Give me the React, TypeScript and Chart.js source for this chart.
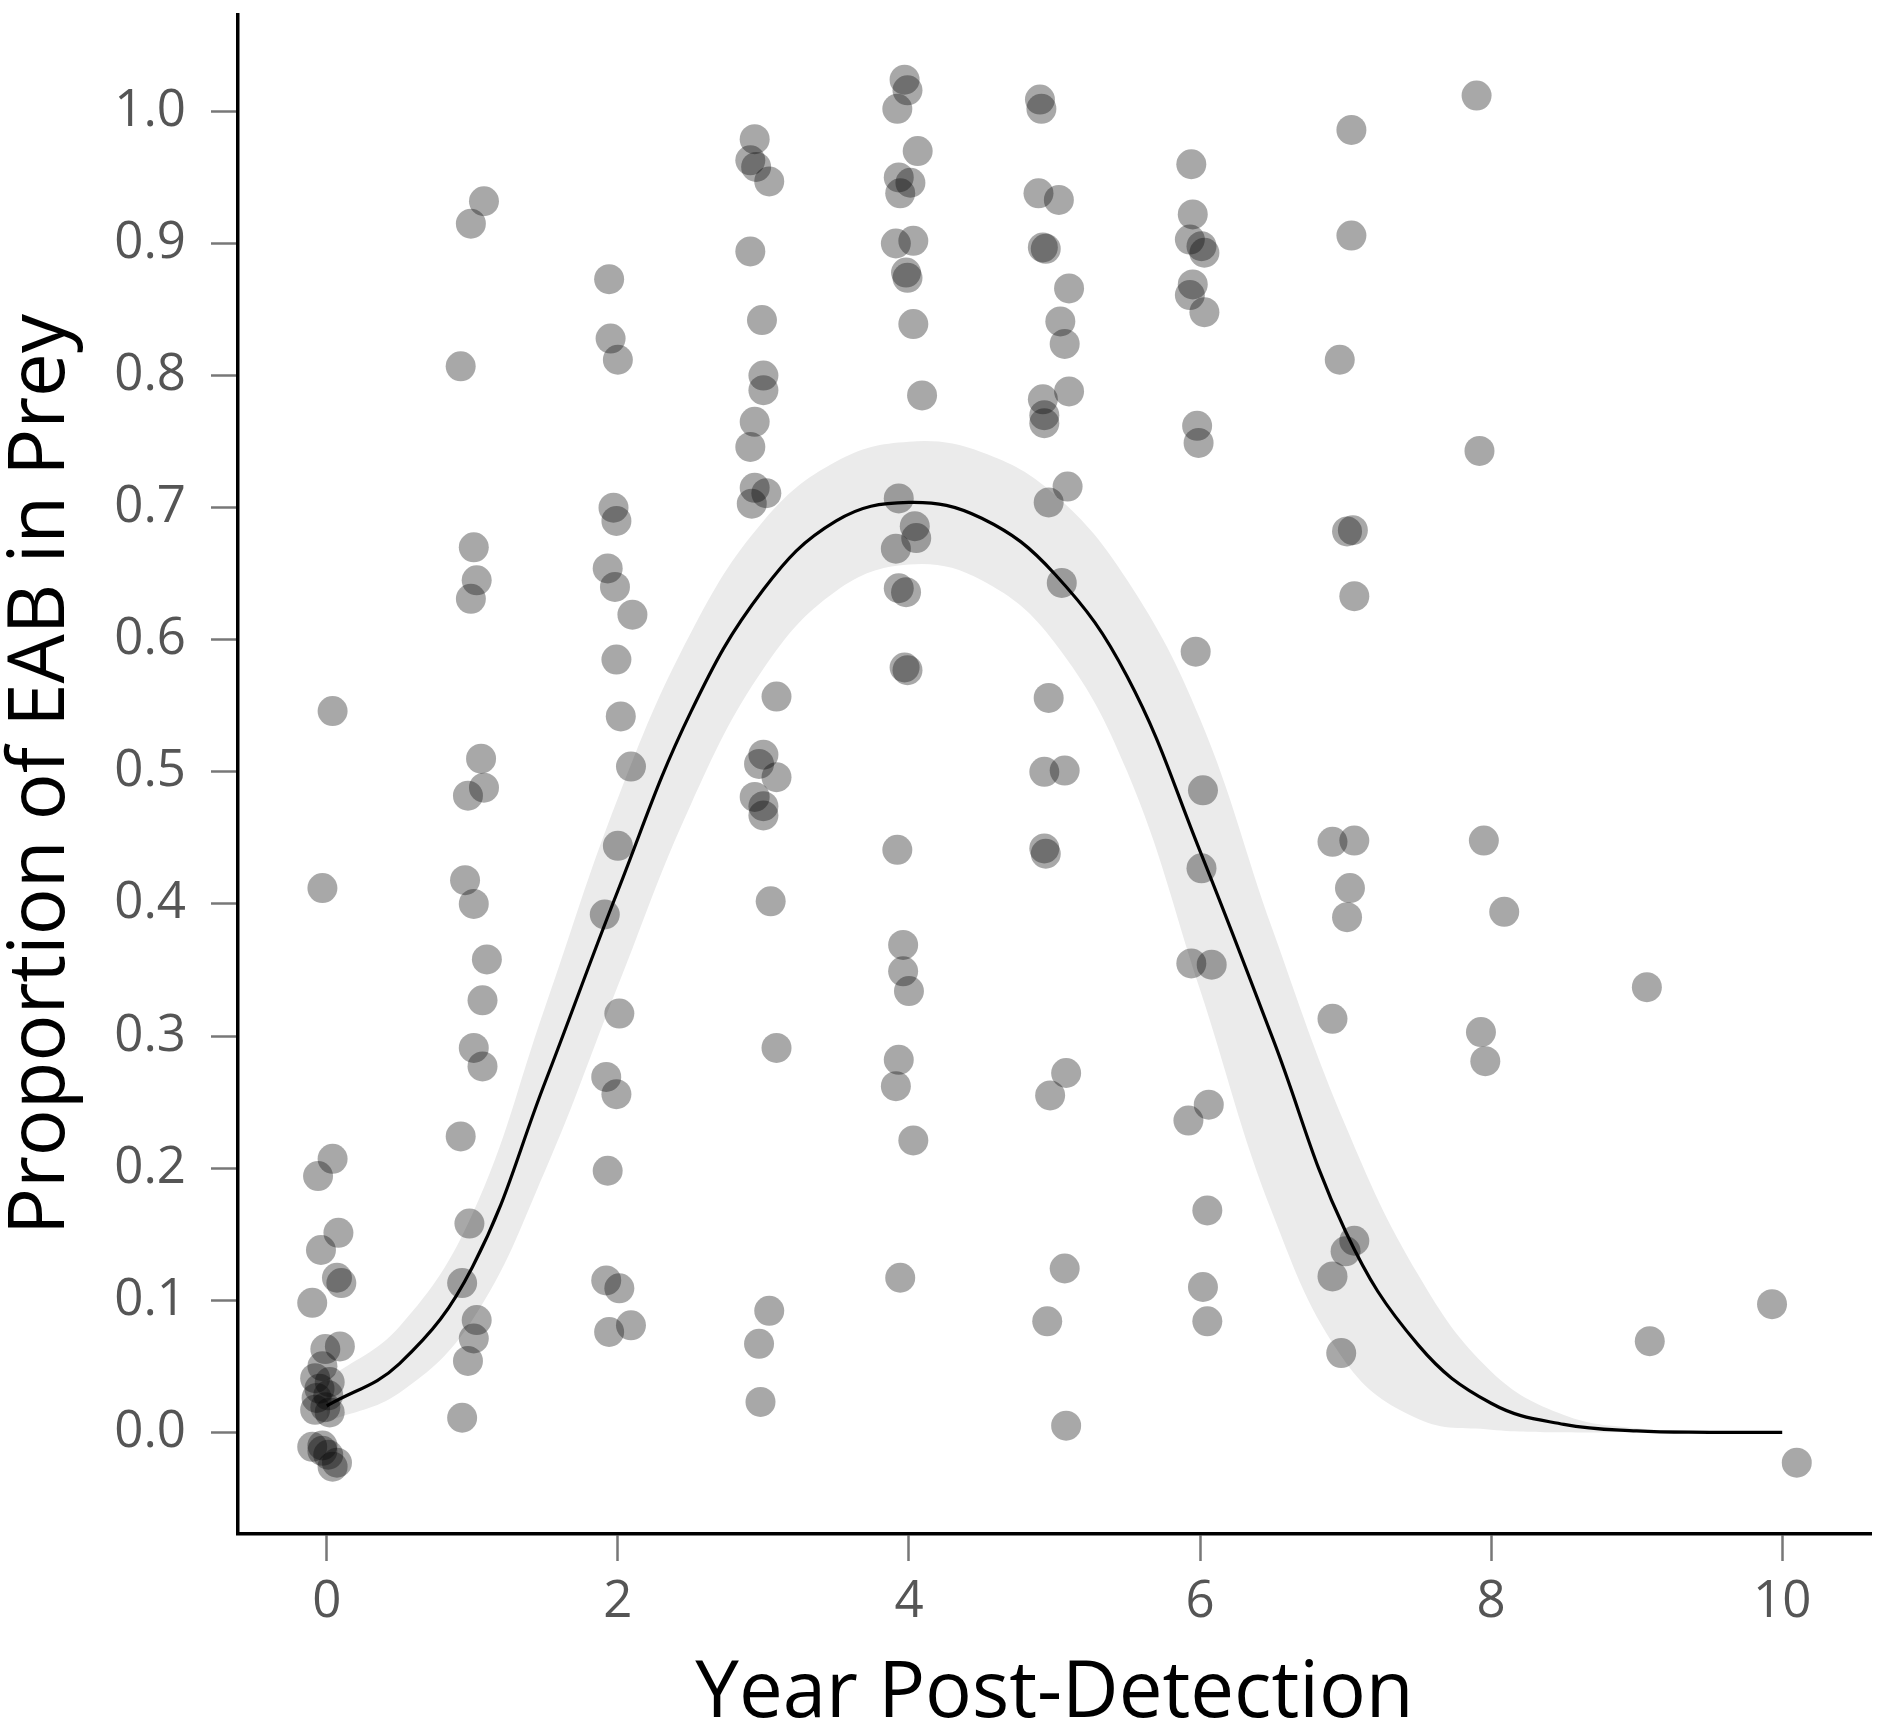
import React, { useEffect, useRef } from "react";
import { Chart, registerables } from "chart.js";

Chart.register(...registerables);

// axis ticks
const xTicks = [0, 2, 4, 6, 8, 10];
const yTicks = [0, 0.1, 0.2, 0.3, 0.4, 0.5, 0.6, 0.7, 0.8, 0.9, 1.0];

// fitted curve and its confidence band
const fitYears = [0, 0.5, 1, 1.5, 2, 2.5, 3, 3.5, 4, 4.5, 5, 5.5, 6, 6.5, 7, 7.5, 8, 8.5, 9, 9.5, 10];
const fitMean = [0.02, 0.052, 0.125, 0.265, 0.41, 0.545, 0.638, 0.69, 0.704, 0.692, 0.65, 0.572, 0.44, 0.298, 0.152, 0.066, 0.022, 0.006, 0.001, 0, 0];
const fitUpper = [0.04, 0.08, 0.165, 0.322, 0.48, 0.605, 0.69, 0.735, 0.75, 0.742, 0.71, 0.645, 0.54, 0.38, 0.232, 0.119, 0.046, 0.013, 0.003, 0.001, 0];
const fitLower = [0.008, 0.03, 0.085, 0.198, 0.338, 0.475, 0.578, 0.637, 0.657, 0.645, 0.598, 0.5, 0.335, 0.165, 0.053, 0.01, 0.002, 0, 0, 0, 0];

// observations (jittered year, proportion)
const obsYear = [
  // year 0
  0.04, -0.03, 0.04, -0.06, 0.08, -0.04, 0.07, 0.1, -0.1, 0.09, -0.01, -0.03, -0.08, 0.02, -0.05, 0.01, -0.07, -0.01, -0.08, 0.02, -0.1, -0.03, -0.03, 0.01, 0.07, 0.04,
  // year 1
  0.99, 1.08, 0.92, 1.01, 1.03, 0.99, 1.06, 1.08, 0.97, 0.95, 1.01, 1.1, 1.07, 1.01, 1.07, 0.92, 0.98, 0.93, 1.03, 1.01, 0.97, 0.93,
  // year 2
  1.94, 1.95, 2.0, 1.97, 1.99, 1.93, 1.98, 2.1, 1.99, 2.02, 2.09, 2.0, 1.91, 2.01, 1.92, 1.99, 1.93, 1.92, 2.01, 2.09, 1.94,
  // year 3
  2.94, 2.91, 2.95, 3.04, 2.91, 2.99, 3.0, 3.0, 2.94, 2.91, 2.94, 3.02, 2.92, 3.09, 3.0, 2.97, 3.09, 2.94, 3.0, 3.0, 3.05, 3.09, 3.04, 2.97, 2.98,
  // year 4
  3.97, 3.99, 3.92, 4.06, 3.93, 4.01, 3.94, 3.91, 4.03, 3.98, 3.99, 4.03, 4.09, 3.93, 4.04, 4.05, 3.91, 3.93, 3.98, 3.97, 3.99, 3.92, 3.96, 3.96, 4.0, 3.93, 3.91, 4.03, 3.94,
  // year 5
  4.9, 4.91, 4.89, 5.03, 4.92, 4.94, 5.1, 5.04, 5.07, 5.1, 4.92, 4.93, 4.93, 5.09, 4.96, 5.05, 4.96, 4.93, 5.07, 4.93, 4.94, 5.08, 4.97, 5.07, 4.95, 5.08,
  // year 6
  5.94, 5.95, 5.93, 6.01, 6.03, 5.95, 5.93, 6.03, 5.98, 5.99, 5.97, 6.02, 6.01, 5.94, 6.08, 6.06, 5.92, 6.05, 6.02, 6.05,
  // year 7
  7.04, 7.04, 6.96, 7.01, 7.05, 7.06, 6.91, 7.06, 7.03, 7.01, 6.91, 7.0, 7.06, 6.91, 6.97,
  // years 8-10
  7.9, 7.92, 7.95, 8.09, 7.93, 7.96, 9.07, 9.09, 9.93, 10.1,
];
const obsProp = [
  0.546, 0.412, 0.207, 0.194, 0.151, 0.138, 0.117, 0.113, 0.098, 0.065, 0.063, 0.05, 0.041, 0.038, 0.033, 0.028, 0.026, 0.019, 0.017, 0.015, -0.011, -0.01, -0.014, -0.017, -0.023, -0.026,
  0.915, 0.932, 0.807, 0.67, 0.645, 0.631, 0.51, 0.488, 0.482, 0.418, 0.4, 0.358, 0.327, 0.291, 0.277, 0.224, 0.158, 0.113, 0.085, 0.071, 0.054, 0.011,
  0.873, 0.828, 0.812, 0.7, 0.69, 0.654, 0.64, 0.619, 0.585, 0.542, 0.504, 0.444, 0.392, 0.317, 0.269, 0.256, 0.198, 0.115, 0.109, 0.081, 0.076,
  0.979, 0.963, 0.958, 0.947, 0.894, 0.842, 0.8, 0.789, 0.765, 0.746, 0.715, 0.711, 0.703, 0.557, 0.513, 0.506, 0.496, 0.481, 0.474, 0.467, 0.402, 0.291, 0.092, 0.067, 0.023,
  1.024, 1.016, 1.002, 0.97, 0.95, 0.946, 0.938, 0.9, 0.902, 0.878, 0.874, 0.839, 0.785, 0.707, 0.686, 0.677, 0.669, 0.639, 0.636, 0.579, 0.577, 0.441, 0.369, 0.349, 0.334, 0.282, 0.262, 0.221, 0.117,
  1.009, 1.002, 0.938, 0.933, 0.897, 0.896, 0.866, 0.841, 0.824, 0.788, 0.782, 0.77, 0.764, 0.716, 0.704, 0.643, 0.556, 0.5, 0.501, 0.442, 0.438, 0.272, 0.255, 0.124, 0.084, 0.005,
  0.96, 0.922, 0.903, 0.898, 0.893, 0.869, 0.861, 0.848, 0.762, 0.749, 0.591, 0.486, 0.427, 0.355, 0.354, 0.248, 0.236, 0.168, 0.11, 0.084,
  0.986, 0.906, 0.812, 0.682, 0.683, 0.633, 0.447, 0.448, 0.412, 0.39, 0.313, 0.137, 0.145, 0.118, 0.06,
  1.012, 0.743, 0.448, 0.394, 0.303, 0.281, 0.337, 0.069, 0.097, -0.023,
];

const FONT = "'Open Sans', 'Noto Sans', sans-serif";

const EabChart: React.FC = () => {
  const canvasRef = useRef<HTMLCanvasElement>(null);
  const chartRef = useRef<Chart | null>(null);

  useEffect(() => {
    const ctx = canvasRef.current?.getContext("2d");
    if (!ctx) return;
    if (chartRef.current) chartRef.current.destroy();

    const fitPoints = (vals: number[]) => fitYears.map((x, i) => ({ x, y: vals[i] }));
    const obs = obsYear.map((x, i) => ({ x, y: obsProp[i] }));

    chartRef.current = new Chart(ctx, {
      type: "scatter",
      data: {
        datasets: [
          {
            type: "line",
            label: "fit",
            data: fitPoints(fitMean),
            borderColor: "#000",
            borderWidth: 3.2,
            pointRadius: 0,
            tension: 0.4,
            fill: false,
            order: 0,
          },
          {
            label: "obs",
            data: obs,
            pointRadius: 15,
            pointHoverRadius: 15,
            backgroundColor: "rgba(0,0,0,0.34)",
            borderWidth: 0,
            order: 1,
          },
          {
            type: "line",
            label: "lower",
            data: fitPoints(fitLower),
            borderColor: "transparent",
            borderWidth: 0,
            pointRadius: 0,
            tension: 0.4,
            fill: false,
            order: 3,
          },
          {
            type: "line",
            label: "upper",
            data: fitPoints(fitUpper),
            borderColor: "transparent",
            borderWidth: 0,
            pointRadius: 0,
            tension: 0.4,
            fill: "-1",
            backgroundColor: "#ebebeb",
            order: 2,
          },
        ],
      },
      options: {
        responsive: false,
        animation: false,
        events: [],
        layout: { padding: { top: 8, right: 13, left: 0, bottom: 0 } },
        plugins: {
          legend: { display: false },
          tooltip: { enabled: false },
        },
        scales: {
          x: {
            type: "linear",
            min: -0.61,
            max: 10.61,
            afterBuildTicks: (s: any) => {
              s.ticks = xTicks.map((v) => ({ value: v }));
            },
            afterFit: (s: any) => {
              s.height = 192;
              s.paddingLeft = 0;
              s.paddingRight = 0;
            },
            grid: {
              display: true,
              drawOnChartArea: false,
              drawTicks: true,
              tickLength: 27,
              tickColor: "#777",
              tickWidth: 2.5,
            },
            border: { display: true, color: "#000", width: 3.5 },
            ticks: {
              autoSkip: false,
              maxRotation: 0,
              padding: 11,
              color: "#555",
              font: { family: FONT, size: 51 },
              callback: (v: any) => String(v),
            },
            title: {
              display: true,
              text: "Year Post-Detection",
              color: "#000",
              font: { family: FONT, size: 78, lineHeight: 0.8 },
              padding: 0,
            },
          },
          y: {
            type: "linear",
            min: -0.077,
            max: 1.073,
            afterBuildTicks: (s: any) => {
              s.ticks = yTicks.map((v) => ({ value: v }));
            },
            afterFit: (s: any) => {
              s.width = 238;
              s.paddingTop = 0;
              s.paddingBottom = 0;
            },
            grid: {
              display: true,
              drawOnChartArea: false,
              drawTicks: true,
              tickLength: 27,
              tickColor: "#777",
              tickWidth: 2.5,
            },
            border: { display: true, color: "#000", width: 3.5 },
            ticks: {
              autoSkip: false,
              padding: 25,
              color: "#555",
              font: { family: FONT, size: 51 },
              callback: (v: any) => Number(v).toFixed(1),
            },
            title: {
              display: true,
              text: "Proportion of EAB in Prey",
              color: "#000",
              font: { family: FONT, size: 78, lineHeight: 1 },
              padding: { top: 3, bottom: 0 },
            },
          },
        },
      },
    });

    return () => {
      if (chartRef.current) {
        chartRef.current.destroy();
        chartRef.current = null;
      }
    };
  }, []);

  return (
    <div style={{ position: "absolute", left: 0, top: 0, width: 1886, height: 1726, background: "#fff" }}>
      <canvas ref={canvasRef} width={1886} height={1726} style={{ width: 1886, height: 1726, display: "block" }} />
    </div>
  );
};

export default function App() {
  return <EabChart />;
}
